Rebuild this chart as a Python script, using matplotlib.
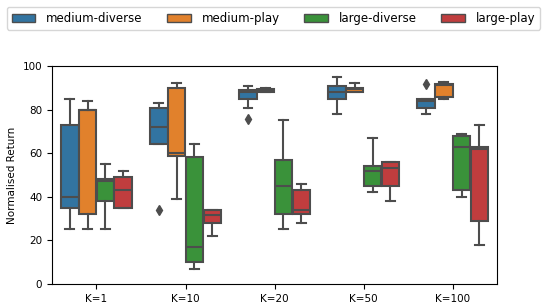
import matplotlib
matplotlib.use("Agg")
import matplotlib.pyplot as plt
from matplotlib.patches import Patch

groups = ["K=1", "K=10", "K=20", "K=50", "K=100"]
datasets = ["medium-diverse", "medium-play", "large-diverse", "large-play"]
colors = ["#3274a1", "#e1812c", "#3a923a", "#c03d3e"]

# box stats per dataset, one value per K: whislo, q1, med, q3, whishi
whislo = {
    "medium-diverse": [25, 64, 80.7, 78, 78],
    "medium-play":    [25, 39, 88.1, 88.1, 85],
    "large-diverse":  [25, 7, 25, 42.4, 40],
    "large-play":     [35, 22, 28, 38, 18],
}
q1 = {
    "medium-diverse": [35, 64, 85, 85, 80.7],
    "medium-play":    [32, 58.7, 88.1, 88.1, 85.8],
    "large-diverse":  [38, 10, 32, 45, 43],
    "large-play":     [35, 28, 32, 45, 29],
}
med = {
    "medium-diverse": [40, 72, 88, 88, 84],
    "medium-play":    [80, 60, 88.7, 89.2, 91.3],
    "large-diverse":  [47, 17, 45, 52, 62.8],
    "large-play":     [43.3, 31.5, 34, 53, 62.1],
}
q3 = {
    "medium-diverse": [73, 80.7, 89, 91, 85],
    "medium-play":    [80, 90, 89.2, 90.1, 91.6],
    "large-diverse":  [48.2, 58, 57, 54.3, 68],
    "large-play":     [49.2, 34, 43.3, 56, 62.7],
}
whishi = {
    "medium-diverse": [85, 83, 91, 95, 85],
    "medium-play":    [84, 92, 90, 92, 92.7],
    "large-diverse":  [55, 64, 75, 67, 69],
    "large-play":     [52, 34, 46, 56, 73],
}
fliers = {
    "medium-diverse": [[], [34], [75.5], [], [91.7]],
    "medium-play":    [[], [], [], [], []],
    "large-diverse":  [[], [], [], [], []],
    "large-play":     [[], [], [], [], []],
}

fig = plt.figure(figsize=(5.47, 3.08), dpi=100)
ax = fig.add_axes([0.095, 0.078, 0.814, 0.708])

gray = "#4d4d4d"
n = len(datasets)
w = 0.8 / n
for j, name in enumerate(datasets):
    stats = []
    for i in range(len(groups)):
        stats.append(dict(whislo=whislo[name][i], q1=q1[name][i], med=med[name][i],
                          q3=q3[name][i], whishi=whishi[name][i], fliers=fliers[name][i]))
    pos = [i - 0.4 + w / 2 + j * w for i in range(len(groups))]
    ax.bxp(stats, positions=pos, widths=w * 0.98, patch_artist=True, showfliers=True,
           boxprops=dict(facecolor=colors[j], edgecolor=gray, linewidth=1.5),
           medianprops=dict(color=gray, linewidth=1.5),
           whiskerprops=dict(color=gray, linewidth=1.5),
           capprops=dict(color=gray, linewidth=1.5),
           flierprops=dict(marker="d", markerfacecolor=gray, markeredgecolor=gray,
                           markersize=5))

ax.set_xlim(-0.5, len(groups) - 0.5)
ax.set_xticks(range(len(groups)))
ax.set_xticklabels(groups, fontsize=7.5)
ax.set_ylim(0, 100)
ax.set_yticks([0, 20, 40, 60, 80, 100])
ax.tick_params(axis="y", labelsize=7.5)
ax.set_ylabel("Normalised Return", fontsize=7.5)

handles = [Patch(facecolor=c, edgecolor=gray, label=d) for c, d in zip(colors, datasets)]
fig.legend(handles=handles, loc="upper left", bbox_to_anchor=(0.0128, 0.977), ncol=4,
           fontsize=8.5, frameon=True, handlelength=2.0, handletextpad=0.9,
           columnspacing=2.1, borderaxespad=0)

fig.savefig("out.png", dpi=100)
